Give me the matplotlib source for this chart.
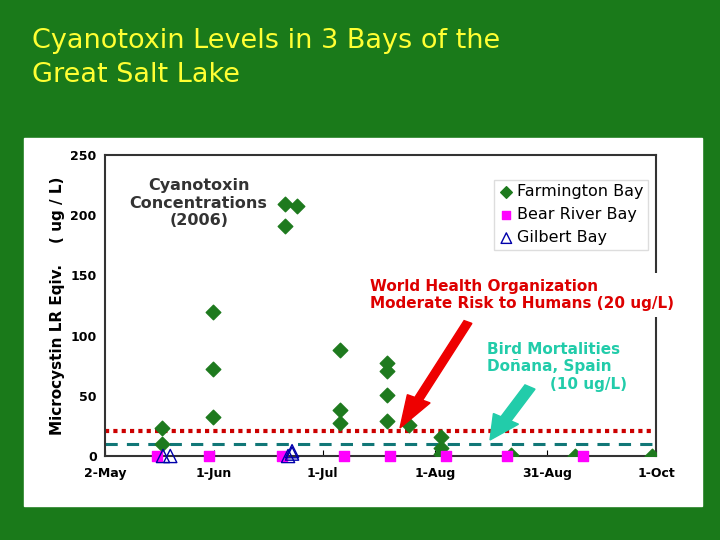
import matplotlib
matplotlib.use("Agg")
import matplotlib.pyplot as plt
from matplotlib.patches import Rectangle, FancyArrow

far_day = [15.7,15.7,29.8,29.8,29.8,49.7,53,49.7,64.8,64.8,64.8,77.8,77.8,77.8,77.8,83.9,92.7,92.7,92.7,112,129.7,151]
far_val = [23,10,120,72,32,209,208,191,88,38,27,77,71,51,29,26,16,7,2,1,0,0]
bear_day = [14.3,28.7,48.8,66,78.6,94,111,131.9]
bear_val = [0,0,0,0,0,0,0,0]
gil_day = [16,18,50.5,51.6,51.6]
gil_val = [0,0,0,2,4]
xticks = [0,30,60,91,122,152]
xlabels = ["2-May","1-Jun","1-Jul","1-Aug","31-Aug","1-Oct"]
who_level = 21
bird_level = 10

fig = plt.figure(figsize=(7.2,5.4), dpi=100)
fig.patch.set_facecolor("#1a7a1a")
fig.add_artist(Rectangle((24/720, 1-506/540), 678/720, 368/540, transform=fig.transFigure, color="white", zorder=0))
fig.text(32/720, 1-58/540, "Cyanotoxin Levels in 3 Bays of the\nGreat Salt Lake", color="#ffff33", fontsize=19.5, va="center", ha="left", linespacing=1.35)

ax = fig.add_axes([105/720, 1-456/540, 551/720, 301/540])
ax.set_xlim(0,152); ax.set_ylim(0,250)
ax.scatter(far_day, far_val, marker="D", s=55, color="#1e7a1e", zorder=3, label="Farmington Bay")
ax.scatter(bear_day, bear_val, marker="s", s=55, color="#ff00ff", zorder=3, label="Bear River Bay", clip_on=False)
ax.scatter(gil_day, gil_val, marker="^", s=90, facecolors="none", edgecolors="#0000aa", zorder=4, label="Gilbert Bay", clip_on=False)
ax.axhline(who_level, color="#cc0000", ls=(0,(1,1)), lw=3)
ax.axhline(bird_level, color="#117777", ls=(0,(4,3)), lw=2.2)
ax.set_xticks(xticks); ax.set_xticklabels(xlabels, fontweight="bold", fontsize=9)
ax.set_yticks(range(0,251,50))
for t in ax.get_yticklabels(): t.set_fontweight("bold"); t.set_fontsize(9)
ax.tick_params(axis="x", direction="in", length=4, pad=8)
ax.tick_params(axis="y", length=0, pad=6)
for s in ax.spines.values(): s.set_linewidth(1.5); s.set_color("#333333")
ax.set_ylabel("Microcystin LR Eqiv.    ( ug / L)", fontweight="bold", fontsize=11)
ax.text(0.17, 0.84, "Cyanotoxin\nConcentrations\n(2006)", transform=ax.transAxes, ha="center", va="center", fontweight="bold", fontsize=11.5, color="#333333")
leg = ax.legend(loc="upper right", bbox_to_anchor=(1.0, 0.945), fontsize=11.5, handletextpad=0.2, borderpad=0.3, framealpha=1, fancybox=False, edgecolor="#dddddd", markerscale=0.8, handlelength=0.9)
fig.text(370/720, 1-295/540, "World Health Organization\nModerate Risk to Humans (20 ug/L)", color="#dd0000", fontweight="bold", fontsize=11, va="center", ha="left",
         bbox=dict(facecolor="white", edgecolor="none", pad=4))
fig.text(487/720, 1-367/540, "Bird Mortalities\nDoñana, Spain\n            (10 ug/L)", color="#22ccaa", fontweight="bold", fontsize=11, va="center", ha="left",
         bbox=dict(facecolor="white", edgecolor="none", pad=4))
fig.add_artist(FancyArrow(468/720, 1-322/540, -68/720, -106/540, width=0.012, head_width=0.035, head_length=0.06, length_includes_head=True, transform=fig.transFigure, color="#ee0000", zorder=5))
fig.add_artist(FancyArrow(530/720, 1-387/540, -40/720, -53/540, width=0.016, head_width=0.04, head_length=0.045, length_includes_head=True, transform=fig.transFigure, color="#22ccaa", zorder=5))
fig.savefig("out.png", dpi=100, facecolor=fig.get_facecolor())
